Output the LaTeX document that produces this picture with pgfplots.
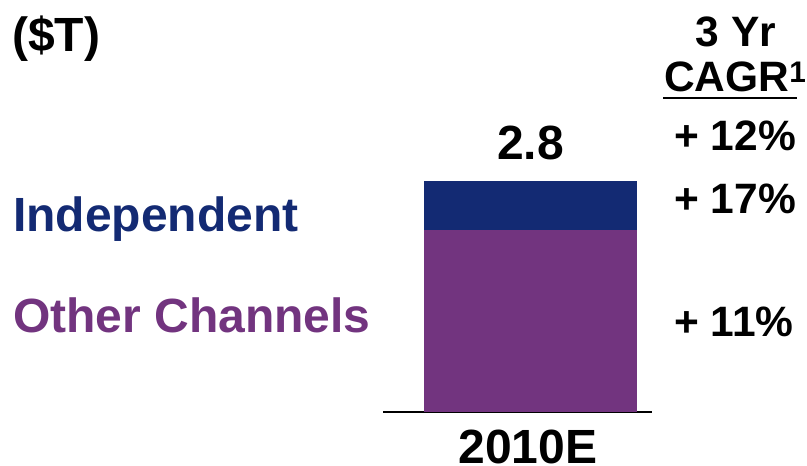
\documentclass[border=0pt]{standalone}
\usepackage{fontspec}
\setmainfont{Liberation Sans}
\usepackage{pgfplots}
\pgfplotsset{compat=1.18}

\definecolor{navy}{HTML}{132A73}
\definecolor{plum}{HTML}{72347F}

\newcommand{\bigbold}{\fontsize{48}{52}\selectfont\bfseries}
\newcommand{\midbold}{\fontsize{42.5}{46}\selectfont\bfseries}

\begin{document}
\begin{tikzpicture}[x=1pt,y=1pt]
\useasboundingbox (0,0) rectangle (807,466);

\begin{axis}[
    at={(383pt,54pt)}, anchor=origin,
    scale only axis,
    width=269pt, height=231pt,
    xmin=383, xmax=652, ymin=0, ymax=2.8,
    ybar stacked, bar width=213pt, bar shift=0pt,
    axis x line*=bottom, hide y axis,
    axis line style={-, black, line width=1.2pt},
    xtick=\empty, ytick=\empty,
    clip=false,
]
\addplot[fill=plum, draw=none] coordinates {(530.5,2.2)};
\addplot[fill=navy, draw=none] coordinates {(530.5,0.6)};
\node[anchor=base, font=\bigbold, yshift=21pt] at (axis cs:530.5,2.8) {2.8};
\node[anchor=base, font=\bigbold, yshift=-52pt] at (axis cs:528,0) {2010E};
\end{axis}

% left labels
\node[anchor=base west, inner sep=0pt, font=\bigbold] at (12,414) {(\$T)};
\node[anchor=base west, inner sep=0pt, font=\bigbold, text=navy] at (13,234) {Independent};
\node[anchor=base west, inner sep=0pt, font=\bigbold, text=plum] at (13,133) {Other Channels};

% CAGR column
\node[anchor=base, inner sep=0pt, font=\midbold] at (736,419) {3 Yr};
\node[anchor=base west, inner sep=0pt, font=\midbold] at (664,374) {CAGR\textsuperscript{1}};
\draw[line width=2pt] (663,368) -- (797,368);
\node[anchor=base west, inner sep=0pt, font=\midbold] at (674,315) {+ 12\%};
\node[anchor=base west, inner sep=0pt, font=\midbold] at (674,252) {+ 17\%};
\node[anchor=base west, inner sep=0pt, font=\midbold] at (674,129) {+ 11\%};
\end{tikzpicture}
\end{document}
